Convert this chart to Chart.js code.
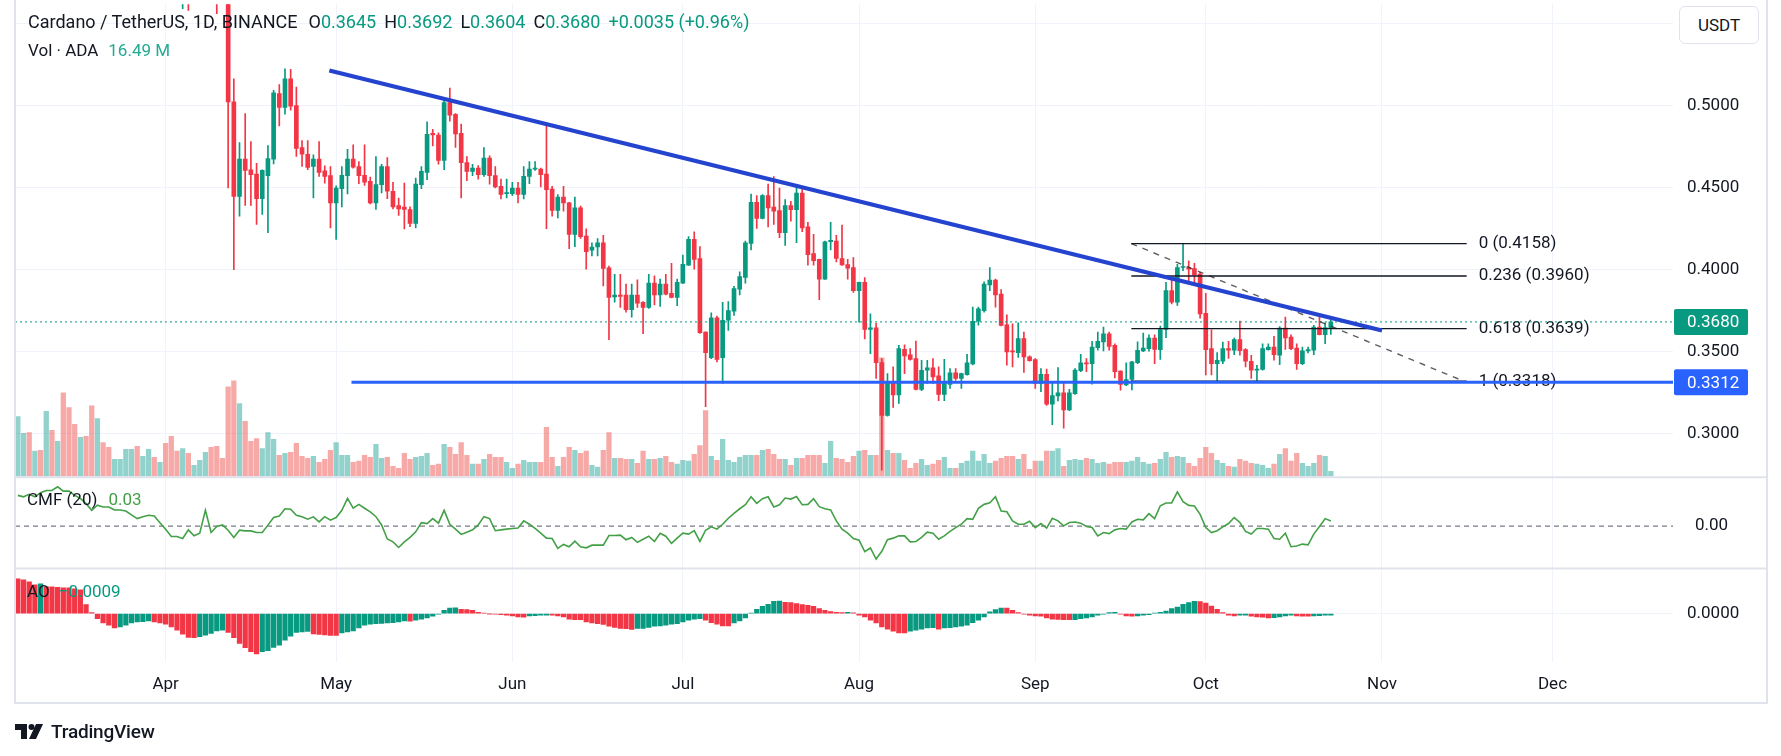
<!DOCTYPE html>
<html lang="en">
<head>
<meta charset="UTF-8">
<title>Cardano / TetherUS, 1D</title>
<script src="https://cdn.jsdelivr.net/npm/chart.js"></script>
<style>
  html, body { margin: 0; padding: 0; background: #fff; overflow: hidden; }
  body { width: 1781px; height: 756px; position: relative; font-family: Roboto, "Liberation Sans", sans-serif; color: #131722; }
  #chart { position: absolute; left: 0; top: -20px; }
  .frame { position: absolute; left: 14px; top: -4px; width: 1750px; height: 706px; border: 2px solid #e0e3eb; border-top: none; pointer-events: none; }
  .txt { position: absolute; font-size: 17px; line-height: 20px; white-space: nowrap; }
  .txt span { margin-left: 10px; }
  #hdr { font-size: 18px; }
  #hdr span { margin-left: 8px; }
  .txt span.v, #hdr span.v { margin-left: 0; color: #089981; }
  .usdt { position: absolute; left: 1679px; top: 6px; width: 78px; height: 36px; border: 1px solid #e0e3eb; border-radius: 6px; background: #fff; font-size: 17px; line-height: 36px; text-align: center; }
  .brand { position: absolute; left: 15px; top: 719px; height: 24px; display: flex; align-items: center; }
  .brand b { font-weight: 500; font-size: 19px; margin-left: 8px; letter-spacing: -0.2px; }
</style>
</head>
<body>
<canvas id="chart" width="1781" height="776"></canvas>
<div class="frame"></div>
<div class="txt" id="hdr" style="left:28px; top:12px;"></div>
<div class="txt" id="vol" style="left:28px; top:40px;"></div>
<div class="txt" id="cmfLbl" style="left:27px; top:489px;"></div>
<div class="txt" id="aoLbl" style="left:27px; top:581px;"></div>
<div class="usdt">USDT</div>
<div class="brand">
  <svg width="28" height="15" viewBox="0 0 28 15"><path d="M0 0H12V15H6V6H0Z" fill="#131722"/><circle cx="16.5" cy="3" r="3" fill="#131722"/><path d="M21 0H28L21 15H14Z" fill="#131722"/></svg>
  <b>TradingView</b>
</div>
<script>
// daily candles, 2024-03-06 (index 0) .. 2024-10-23 (index 231)
const open = [
  0.690,0.715,0.740,0.725,0.740,0.735,0.775,0.760,0.770,0.700,
  0.690,0.640,0.655,0.615,0.590,0.640,0.625,0.615,0.625,0.640,
  0.650,0.668,0.650,0.655,0.665,0.650,0.655,0.620,0.585,0.575,
  0.580,0.572,0.585,0.600,0.612,0.595,0.590,0.586,0.5022,0.4446,
  0.4673,0.4608,0.4582,0.4432,0.4572,0.4673,0.5073,0.4988,0.5163,0.5000,
  0.4743,0.4703,0.4628,0.4673,0.4602,0.4572,0.4406,0.4493,0.4572,0.4673,
  0.4628,0.4574,0.4537,0.4406,0.4517,0.4628,0.4477,0.4390,0.4380,0.4366,
  0.4281,0.4517,0.4592,0.4830,0.4820,0.4665,0.5018,0.4947,0.4830,0.4652,
  0.4598,0.4618,0.4578,0.4679,0.4572,0.4507,0.4463,0.4463,0.4497,0.4457,
  0.4568,0.4612,0.4612,0.4582,0.4491,0.4360,0.4442,0.4406,0.4214,0.4376,
  0.4204,0.4117,0.4137,0.4163,0.4010,0.3832,0.3844,0.3844,0.3755,0.3844,
  0.3800,0.3769,0.3917,0.3844,0.3911,0.3854,0.3830,0.3917,0.4026,0.4184,
  0.4066,0.3618,0.3462,0.3705,0.3462,0.3690,0.3745,0.3880,0.3951,0.4159,
  0.4410,0.4311,0.4450,0.4381,0.4359,0.4224,0.4389,0.4365,0.4466,0.4260,
  0.4097,0.4062,0.3941,0.4169,0.4173,0.4066,0.4030,0.4012,0.3870,0.3921,
  0.3634,0.3644,0.3432,0.3109,0.3315,0.3234,0.3513,0.3480,0.3456,0.3268,
  0.3385,0.3400,0.3351,0.3238,0.3299,0.3369,0.3335,0.3358,0.3424,0.3684,
  0.3749,0.3905,0.3935,0.3850,0.3663,0.3503,0.3493,0.3578,0.3467,0.3450,
  0.3305,0.3360,0.3178,0.3228,0.3248,0.3143,0.3242,0.3382,0.3430,0.3426,
  0.3523,0.3558,0.3608,0.3537,0.3380,0.3295,0.3329,0.3432,0.3503,0.3517,
  0.3582,0.3511,0.3634,0.3871,0.3800,0.4012,0.4012,0.4006,0.3972,0.3733,
  0.3517,0.3426,0.3440,0.3517,0.3507,0.3572,0.3511,0.3440,0.3386,0.3390,
  0.3511,0.3527,0.3477,0.3642,0.3588,0.3521,0.3426,0.3503,0.3507,0.3648,
  0.3602,0.3645
];
const high = [
  0.735,0.752,0.755,0.748,0.750,0.790,0.800,0.785,0.778,0.720,
  0.700,0.668,0.662,0.620,0.648,0.655,0.635,0.632,0.648,0.660,
  0.680,0.672,0.662,0.675,0.670,0.662,0.660,0.625,0.592,0.590,
  0.588,0.590,0.606,0.618,0.615,0.600,0.598,0.592,0.5163,0.4774,
  0.4951,0.4780,0.4648,0.4608,0.4755,0.5093,0.5127,0.5224,0.5220,0.5113,
  0.4786,0.4786,0.4699,0.4780,0.4632,0.4628,0.4510,0.4628,0.4733,0.4760,
  0.4658,0.4760,0.4563,0.4689,0.4642,0.4683,0.4531,0.4436,0.4527,0.4382,
  0.4557,0.4628,0.4901,0.4854,0.4834,0.5032,0.5107,0.4951,0.4887,0.4689,
  0.4642,0.4634,0.4743,0.4693,0.4628,0.4551,0.4551,0.4531,0.4531,0.4628,
  0.4658,0.4658,0.4618,0.4895,0.4507,0.4457,0.4507,0.4410,0.4442,0.4386,
  0.4248,0.4163,0.4188,0.4208,0.4020,0.3971,0.3971,0.3911,0.3911,0.3937,
  0.3804,0.3971,0.3961,0.3941,0.3971,0.4038,0.3941,0.4087,0.4200,0.4230,
  0.4139,0.3620,0.3735,0.3715,0.3800,0.3804,0.3897,0.3985,0.4173,0.4460,
  0.4450,0.4456,0.4521,0.4567,0.4497,0.4426,0.4416,0.4511,0.4503,0.4288,
  0.4214,0.4064,0.4173,0.4288,0.4208,0.4270,0.4062,0.4072,0.3923,0.3951,
  0.3729,0.3672,0.3456,0.3365,0.3406,0.3537,0.3541,0.3517,0.3563,0.3446,
  0.3446,0.3456,0.3406,0.3452,0.3395,0.3395,0.3368,0.3482,0.3770,0.3770,
  0.3925,0.4012,0.3941,0.3877,0.3723,0.3669,0.3675,0.3618,0.3473,0.3456,
  0.3396,0.3392,0.3305,0.3402,0.3315,0.3269,0.3396,0.3483,0.3457,0.3562,
  0.3618,0.3648,0.3618,0.3547,0.3382,0.3430,0.3440,0.3558,0.3612,0.3602,
  0.3602,0.3655,0.3921,0.3945,0.4032,0.4158,0.4052,0.4038,0.3982,0.3854,
  0.3632,0.3493,0.3557,0.3562,0.3582,0.3685,0.3517,0.3477,0.3416,0.3547,
  0.3547,0.3592,0.3652,0.3709,0.3602,0.3547,0.3527,0.3527,0.3659,0.3723,
  0.3675,0.3692
];
const low = [
  0.675,0.705,0.705,0.718,0.725,0.725,0.745,0.740,0.680,0.665,
  0.620,0.630,0.600,0.575,0.585,0.615,0.605,0.606,0.618,0.632,
  0.645,0.645,0.645,0.650,0.645,0.642,0.612,0.575,0.565,0.559,
  0.558,0.566,0.580,0.596,0.588,0.556,0.572,0.4497,0.3998,0.4325,
  0.4390,0.4390,0.4275,0.4335,0.4224,0.4644,0.4875,0.4947,0.4971,0.4689,
  0.4628,0.4608,0.4436,0.4568,0.4527,0.4254,0.4184,0.4382,0.4461,0.4618,
  0.4523,0.4513,0.4400,0.4366,0.4467,0.4432,0.4370,0.4329,0.4248,0.4261,
  0.4254,0.4493,0.4547,0.4753,0.4642,0.4608,0.4905,0.4745,0.4436,0.4541,
  0.4572,0.4551,0.4568,0.4521,0.4497,0.4430,0.4436,0.4450,0.4406,0.4430,
  0.4523,0.4604,0.4503,0.4249,0.4325,0.4315,0.4355,0.4127,0.4139,0.4190,
  0.4002,0.4083,0.4083,0.3899,0.3571,0.3800,0.3769,0.3739,0.3709,0.3769,
  0.3608,0.3763,0.3783,0.3775,0.3844,0.3826,0.3779,0.3915,0.4024,0.4002,
  0.3610,0.3163,0.3456,0.3436,0.3305,0.3628,0.3719,0.3844,0.3917,0.4119,
  0.4250,0.4309,0.4260,0.4274,0.4194,0.4147,0.4295,0.4163,0.4230,0.4026,
  0.4026,0.3816,0.3939,0.4119,0.4046,0.4024,0.3941,0.3860,0.3678,0.3577,
  0.3486,0.3335,0.2775,0.3105,0.3159,0.3183,0.3365,0.3446,0.3265,0.3260,
  0.3305,0.3305,0.3200,0.3200,0.3274,0.3325,0.3274,0.3355,0.3418,0.3660,
  0.3740,0.3871,0.3770,0.3655,0.3416,0.3406,0.3463,0.3372,0.3440,0.3275,
  0.3255,0.3170,0.3053,0.3198,0.3032,0.3139,0.3238,0.3376,0.3376,0.3301,
  0.3507,0.3503,0.3507,0.3339,0.3263,0.3291,0.3265,0.3426,0.3499,0.3501,
  0.3426,0.3451,0.3584,0.3790,0.3780,0.3992,0.3925,0.3921,0.3703,0.3356,
  0.3356,0.3315,0.3426,0.3457,0.3481,0.3477,0.3406,0.3335,0.3315,0.3386,
  0.3507,0.3446,0.3420,0.3513,0.3511,0.3390,0.3420,0.3491,0.3481,0.3600,
  0.3547,0.3604
];
const close = [
  0.715,0.740,0.725,0.740,0.735,0.775,0.760,0.770,0.700,0.690,
  0.640,0.655,0.615,0.590,0.640,0.625,0.615,0.625,0.640,0.650,
  0.668,0.650,0.655,0.665,0.650,0.655,0.620,0.585,0.575,0.580,
  0.572,0.585,0.600,0.612,0.595,0.585,0.586,0.5022,0.4446,0.4673,
  0.4604,0.4578,0.4432,0.4604,0.4677,0.5077,0.4988,0.5163,0.4996,0.4739,
  0.4703,0.4622,0.4673,0.4592,0.4568,0.4406,0.4497,0.4574,0.4673,0.4624,
  0.4572,0.4533,0.4406,0.4517,0.4628,0.4477,0.4382,0.4370,0.4366,0.4281,
  0.4521,0.4598,0.4824,0.4820,0.4665,0.5018,0.4941,0.4826,0.4652,0.4598,
  0.4618,0.4578,0.4679,0.4572,0.4503,0.4457,0.4467,0.4497,0.4457,0.4568,
  0.4612,0.4614,0.4578,0.4487,0.4360,0.4442,0.4406,0.4214,0.4376,0.4200,
  0.4109,0.4137,0.4163,0.4006,0.3830,0.3844,0.3836,0.3755,0.3844,0.3795,
  0.3769,0.3917,0.3844,0.3911,0.3850,0.3830,0.3921,0.4032,0.4184,0.4062,
  0.3614,0.3492,0.3705,0.3452,0.3690,0.3749,0.3884,0.3957,0.4163,0.4410,
  0.4311,0.4450,0.4375,0.4355,0.4224,0.4389,0.4365,0.4466,0.4254,0.4090,
  0.4054,0.3941,0.4169,0.4177,0.4068,0.4028,0.4008,0.3870,0.3921,0.3634,
  0.3644,0.3432,0.3109,0.3315,0.3234,0.3517,0.3472,0.3452,0.3268,0.3385,
  0.3400,0.3345,0.3238,0.3305,0.3369,0.3335,0.3365,0.3430,0.3684,0.3760,
  0.3911,0.3935,0.3844,0.3659,0.3497,0.3497,0.3578,0.3467,0.3444,0.3305,
  0.3360,0.3178,0.3230,0.3248,0.3143,0.3248,0.3386,0.3430,0.3424,0.3527,
  0.3562,0.3608,0.3531,0.3376,0.3299,0.3329,0.3436,0.3507,0.3521,0.3582,
  0.3513,0.3634,0.3871,0.3800,0.4012,0.4018,0.4002,0.3966,0.3729,0.3511,
  0.3426,0.3446,0.3517,0.3507,0.3572,0.3505,0.3440,0.3386,0.3392,0.3517,
  0.3527,0.3481,0.3642,0.3582,0.3517,0.3426,0.3503,0.3511,0.3648,0.3602,
  0.3645,0.3680
];
// volume, millions of ADA
const volume = [
  198,142,145,83,86,215,152,116,277,228,
  172,129,132,234,191,112,96,56,56,89,
  89,99,66,89,63,46,109,132,83,92,
  76,36,53,79,96,99,59,297,317,241,
  182,116,125,92,145,122,69,76,79,109,
  66,59,66,46,56,86,112,69,69,46,
  50,69,63,106,59,63,33,26,76,56,
  63,66,76,36,40,106,96,73,112,69,
  40,40,56,73,63,63,46,26,40,53,
  46,46,46,162,63,33,63,96,86,76,
  83,36,30,86,145,59,59,56,56,43,
  83,56,56,59,66,46,40,53,50,73,
  102,218,66,53,122,53,46,63,69,69,
  69,86,89,73,56,56,36,59,59,69,
  69,69,43,116,59,56,46,66,83,86,
  69,69,393,86,76,76,53,26,43,56,
  36,40,53,63,26,26,43,50,83,50,
  73,43,50,59,66,66,56,73,23,50,
  50,83,83,92,33,53,56,53,59,56,
  43,46,40,46,46,46,50,63,46,40,
  43,56,79,63,66,63,43,33,59,96,
  76,53,43,33,30,56,50,43,40,36,
  26,40,73,92,50,76,43,33,43,69,
  66,16.49
];
// Chaikin Money Flow (20)
const cmf = [
  0.175,0.167,0.181,0.167,0.190,0.203,0.203,0.224,0.199,0.199,
  0.175,0.158,0.128,0.090,0.119,0.109,0.109,0.092,0.092,0.086,
  0.064,0.043,0.054,0.062,0.058,0.020,-0.017,-0.059,-0.059,-0.070,
  -0.021,-0.055,-0.040,0.090,-0.036,-0.002,0.007,-0.023,-0.064,-0.023,
  -0.027,-0.027,-0.036,-0.036,0.006,0.049,0.058,0.099,0.096,0.062,
  0.053,0.040,0.053,0.024,0.054,0.034,0.049,0.090,0.158,0.102,
  0.124,0.102,0.081,0.054,0.007,-0.073,-0.089,-0.121,-0.089,-0.064,
  -0.032,0.020,0.015,0.043,0.017,0.090,0.011,-0.017,-0.047,-0.034,
  -0.021,0.007,0.054,0.043,-0.026,-0.021,-0.017,-0.013,-0.010,0.030,
  0.011,-0.013,-0.040,-0.068,-0.070,-0.126,-0.104,-0.117,-0.085,-0.117,
  -0.123,-0.108,-0.108,-0.108,-0.053,-0.053,-0.051,-0.077,-0.064,-0.092,
  -0.074,-0.057,-0.087,-0.040,-0.057,-0.098,-0.068,-0.040,-0.045,-0.025,
  -0.087,-0.023,-0.004,-0.017,0.011,0.045,0.073,0.099,0.122,0.167,
  0.130,0.156,0.167,0.109,0.122,0.160,0.154,0.169,0.122,0.124,
  0.156,0.111,0.099,0.092,0.030,-0.017,-0.040,-0.070,-0.080,-0.145,
  -0.124,-0.187,-0.143,-0.077,-0.068,-0.055,-0.055,-0.089,-0.087,-0.064,
  -0.034,-0.040,-0.074,-0.055,-0.030,-0.008,0.011,0.043,0.039,0.101,
  0.124,0.133,0.167,0.086,0.082,0.030,0.011,0.011,0.028,-0.008,
  0.015,-0.011,0.045,0.030,0.002,0.021,0.024,0.017,-0.002,-0.008,
  -0.055,-0.036,-0.042,-0.021,-0.013,-0.017,0.024,0.039,0.036,0.071,
  0.043,0.116,0.132,0.132,0.195,0.139,0.118,0.115,0.067,-0.008,
  -0.036,-0.026,-0.004,0.015,0.049,0.021,-0.030,-0.045,-0.013,-0.013,
  -0.017,-0.070,-0.074,-0.040,-0.117,-0.113,-0.102,-0.106,-0.045,-0.002,
  0.043,0.030
];
// Awesome Oscillator
const ao = [
  0.0210,0.0204,0.0192,0.0174,0.0180,0.0162,0.0161,0.0159,0.0156,0.0155,
  0.0150,0.0144,0.0054,0.0006,-0.0030,-0.0056,-0.0070,-0.0086,-0.0080,-0.0070,
  -0.0056,-0.0050,-0.0049,-0.0044,-0.0050,-0.0056,-0.0064,-0.0080,-0.0100,-0.0124,
  -0.0144,-0.0145,-0.0140,-0.0130,-0.0120,-0.0104,-0.0100,-0.0114,-0.0146,-0.0180,
  -0.0206,-0.0230,-0.0244,-0.0230,-0.0224,-0.0204,-0.0190,-0.0160,-0.0136,-0.0114,
  -0.0110,-0.0108,-0.0123,-0.0126,-0.0129,-0.0131,-0.0132,-0.0116,-0.0110,-0.0104,
  -0.0086,-0.0070,-0.0064,-0.0060,-0.0059,-0.0056,-0.0054,-0.0050,-0.0044,-0.0045,
  -0.0040,-0.0034,-0.0026,-0.0016,-0.0004,0.0020,0.0034,0.0035,0.0026,0.0025,
  0.0020,0.0008,0.0002,-0.0002,-0.0003,-0.0006,-0.0010,-0.0014,-0.0020,-0.0021,
  -0.0014,-0.0013,-0.0010,-0.0009,-0.0010,-0.0014,-0.0020,-0.0034,-0.0036,-0.0037,
  -0.0050,-0.0056,-0.0060,-0.0066,-0.0076,-0.0084,-0.0090,-0.0091,-0.0096,-0.0090,
  -0.0089,-0.0084,-0.0076,-0.0074,-0.0070,-0.0064,-0.0060,-0.0050,-0.0040,-0.0034,
  -0.0030,-0.0040,-0.0054,-0.0064,-0.0074,-0.0075,-0.0056,-0.0044,-0.0026,0.0002,
  0.0026,0.0044,0.0056,0.0074,0.0075,0.0068,0.0066,0.0060,0.0054,0.0050,
  0.0044,0.0030,0.0020,0.0012,0.0008,0.0006,0.0007,0.0005,-0.0009,-0.0020,
  -0.0040,-0.0056,-0.0080,-0.0094,-0.0106,-0.0116,-0.0117,-0.0106,-0.0100,-0.0094,
  -0.0086,-0.0085,-0.0094,-0.0086,-0.0085,-0.0080,-0.0076,-0.0070,-0.0054,-0.0040,
  -0.0020,0.0010,0.0024,0.0034,0.0033,0.0020,0.0006,-0.0004,-0.0010,-0.0014,
  -0.0015,-0.0026,-0.0034,-0.0035,-0.0036,-0.0037,-0.0036,-0.0030,-0.0026,-0.0020,
  -0.0010,-0.0004,0.0006,0.0007,-0.0004,-0.0014,-0.0015,-0.0014,-0.0010,-0.0006,
  0.0002,0.0008,0.0016,0.0030,0.0040,0.0056,0.0066,0.0074,0.0073,0.0064,
  0.0046,0.0026,0.0006,-0.0010,-0.0014,-0.0010,-0.0009,-0.0016,-0.0020,-0.0021,
  -0.0026,-0.0025,-0.0020,-0.0014,-0.0010,-0.0014,-0.0015,-0.0016,-0.0014,-0.0013,
  -0.0010,-0.0009
];

// axis ticks (day index of the 1st of each month) and price grid
const monthTicks = [26, 56, 87, 117, 148, 179, 209, 240, 270];
const monthLabels = ['Apr', 'May', 'Jun', 'Jul', 'Aug', 'Sep', 'Oct', 'Nov', 'Dec'];
const priceTicks = [0.30, 0.35, 0.40, 0.45, 0.50, 0.55];

// drawings: descending trend line, horizontal support, fib retracement
const trendDays = [54.8, 240.0];
const trendPrices = [0.5214, 0.3628];
const supportStart = 58.7;
const supportLevel = 0.3312;
const fibDays = [195.9, 254.9];
const fibRatios = ['0', '0.236', '0.618', '1'];
const fibPrices = [0.4158, 0.3960, 0.3639, 0.3318];

const xMin = -0.5, xMax = 291.2;
const days = close.map((_, i) => i);
const lastClose = close[close.length - 1];

const UP = '#089981', DOWN = '#f23645';
const candleColor = days.map(i => close[i] >= open[i] ? UP : DOWN);
const volColor = days.map(i => close[i] >= open[i] ? 'rgba(38,166,154,0.5)' : 'rgba(239,83,80,0.5)');
const aoColor = days.map(i => (i > 0 && ao[i] > ao[i - 1]) ? '#089981' : '#f23645');

// legend texts
const chg = lastClose - close[close.length - 2];
document.getElementById('hdr').innerHTML =
  'Cardano / TetherUS, 1D, BINANCE' +
  '<span style="margin-left:11px">O</span><span class="v">' + open.at(-1).toFixed(4) + '</span>' +
  '<span>H</span><span class="v">' + high.at(-1).toFixed(4) + '</span>' +
  '<span>L</span><span class="v">' + low.at(-1).toFixed(4) + '</span>' +
  '<span>C</span><span class="v">' + lastClose.toFixed(4) + '</span>' +
  '<span style="color:#089981">+' + chg.toFixed(4) + ' (+' + (chg / close.at(-2) * 100).toFixed(2) + '%)</span>';
document.getElementById('vol').innerHTML = 'Vol · ADA<span style="color:#22ab94">' + volume.at(-1).toFixed(2) + ' M</span>';
document.getElementById('cmfLbl').innerHTML = 'CMF (20)<span style="color:#43a047;margin-left:11px">' + cmf.at(-1).toFixed(2) + '</span>';
document.getElementById('aoLbl').innerHTML = 'AO<span style="color:#089981;margin-left:9px">' + ao.at(-1).toFixed(4).replace('-', '\u2212') + '</span>';

const hLine = (y, from, to) => [{x: from, y: y}, {x: to, y: y}];
const lineDs = (data, color, width, axis, extra) => Object.assign({
  type: 'line', data: data, yAxisID: axis, borderColor: color, borderWidth: width,
  pointRadius: 0, tension: 0, order: 1
}, extra || {});

const fibSets = fibPrices.map(p => lineDs(hLine(p, fibDays[0], fibDays[1]), '#131722', 1.3, 'y', {order: 2}));

const decor = {
  id: 'decor',
  beforeDatasetsDraw(chart) {
    const {ctx, scales} = chart;
    ctx.save();
    ctx.font = '17px Roboto, "Liberation Sans", sans-serif';
    ctx.fillStyle = '#131722';
    ctx.textAlign = 'left';
    ctx.textBaseline = 'middle';
    const xl = scales.x.getPixelForValue(fibDays[1]) + 12;
    fibPrices.forEach((p, i) => ctx.fillText(fibRatios[i] + ' (' + p.toFixed(4) + ')', xl, scales.y.getPixelForValue(p)));
    ctx.restore();
  },
  afterDraw(chart) {
    const {ctx, chartArea, scales} = chart;
    ctx.save();
    ctx.strokeStyle = '#e0e3eb';
    ctx.lineWidth = 2;
    [scales.yCmf.top, scales.yAo.top].forEach(y => {
      ctx.beginPath(); ctx.moveTo(chartArea.left, y); ctx.lineTo(1767, y); ctx.stroke();
    });
    const box = (val, color) => {
      const y = scales.y.getPixelForValue(val);
      ctx.fillStyle = color;
      ctx.beginPath();
      ctx.roundRect(chartArea.right + 1, y - 13, 74, 26, 2);
      ctx.fill();
      ctx.fillStyle = '#fff';
      ctx.font = '17px Roboto, "Liberation Sans", sans-serif';
      ctx.textAlign = 'left';
      ctx.textBaseline = 'middle';
      ctx.fillText(val.toFixed(4), chartArea.right + 14, y + 1);
    };
    box(lastClose, '#089981');
    box(supportLevel, '#2962ff');
    ctx.restore();
  }
};

Chart.defaults.font.family = 'Roboto, "Liberation Sans", sans-serif';
Chart.defaults.font.size = 17;
Chart.defaults.color = '#131722';

const rightAxis = (extra) => Object.assign({
  type: 'linear', position: 'right', stack: 'panes',
  grid: { color: '#f0f3fa', drawTicks: false },
  border: { display: false },
  ticks: { padding: 14, color: '#131722' },
  afterFit: s => { s.width = 94; }
}, extra);

new Chart(document.getElementById('chart'), {
  type: 'bar',
  data: {
    datasets: [
      { label: 'Volume', data: days.map(i => ({x: i, y: volume[i]})), yAxisID: 'yVol',
        backgroundColor: volColor, barThickness: 4.6, grouped: false, order: 10 },
      { label: 'Wick', data: days.map(i => ({x: i, y: [low[i], high[i]]})), yAxisID: 'y',
        backgroundColor: candleColor, barThickness: 1, grouped: false, order: 6 },
      { label: 'Body', data: days.map(i => ({x: i, y: [open[i], close[i]]})), yAxisID: 'y',
        backgroundColor: candleColor, barThickness: 4, minBarLength: 1, grouped: false, order: 5 },
      { label: 'AO', data: days.map(i => ({x: i, y: ao[i]})), yAxisID: 'yAo',
        backgroundColor: aoColor, barThickness: 4.6, grouped: false, order: 5 },
      lineDs(days.map(i => ({x: i, y: cmf[i]})), '#43a047', 1.6, 'yCmf', {order: 4}),
      lineDs(hLine(0, xMin, xMax), '#787b86', 1.3, 'yCmf', {borderDash: [5, 4], order: 5}),
      lineDs(hLine(lastClose, xMin, xMax), '#089981', 1, 'y', {borderDash: [2, 3], order: 3}),
      ...fibSets,
      lineDs([{x: fibDays[0], y: fibPrices[0]}, {x: 254.4, y: fibPrices[3]}], 'rgba(40,40,40,0.75)', 1.4, 'y', {borderDash: [6, 6], order: 2}),
      lineDs(hLine(supportLevel, supportStart, xMax), '#2962ff', 3, 'y'),
      lineDs(trendDays.map((d, i) => ({x: d, y: trendPrices[i]})), '#2443cf', 4, 'y')
    ]
  },
  options: {
    responsive: false,
    animation: false,
    devicePixelRatio: 1,
    layout: { padding: { left: 15, right: 14, top: 20, bottom: 53 } },
    plugins: { legend: { display: false }, tooltip: { enabled: false } },
    scales: {
      x: {
        type: 'linear', min: xMin, max: xMax, offset: false,
        grid: { color: '#f0f3fa', drawTicks: false, offset: false },
        border: { display: false },
        afterBuildTicks: s => { s.ticks = monthTicks.map(v => ({value: v})); },
        ticks: { autoSkip: false, maxRotation: 0, padding: 13, color: '#131722',
                 callback: (v, i) => monthLabels[i] },
        afterFit: s => { s.height = 41; }
      },
      y: rightAxis({
        min: 0.2733, max: 0.5618, stackWeight: 476,
        afterBuildTicks: s => { s.ticks = priceTicks.map(v => ({value: v})); },
        ticks: { padding: 14, color: '#131722', callback: v => v.toFixed(4) }
      }),
      yVol: { type: 'linear', position: 'right', display: false, min: -617.1, max: 1567.5 },
      yCmf: rightAxis({
        min: -0.2412, max: 0.2785, stackWeight: 92,
        grid: { display: false },
        afterBuildTicks: s => { s.ticks = [{value: 0}]; },
        ticks: { padding: 14, color: '#131722', callback: v => v.toFixed(2) }
      }),
      yAo: rightAxis({
        min: -0.02922, max: 0.02718, stackWeight: 94,
        afterBuildTicks: s => { s.ticks = [{value: 0}]; },
        ticks: { padding: 14, color: '#131722', callback: v => v.toFixed(4) }
      })
    }
  },
  plugins: [decor]
});
</script>
</body>
</html>
